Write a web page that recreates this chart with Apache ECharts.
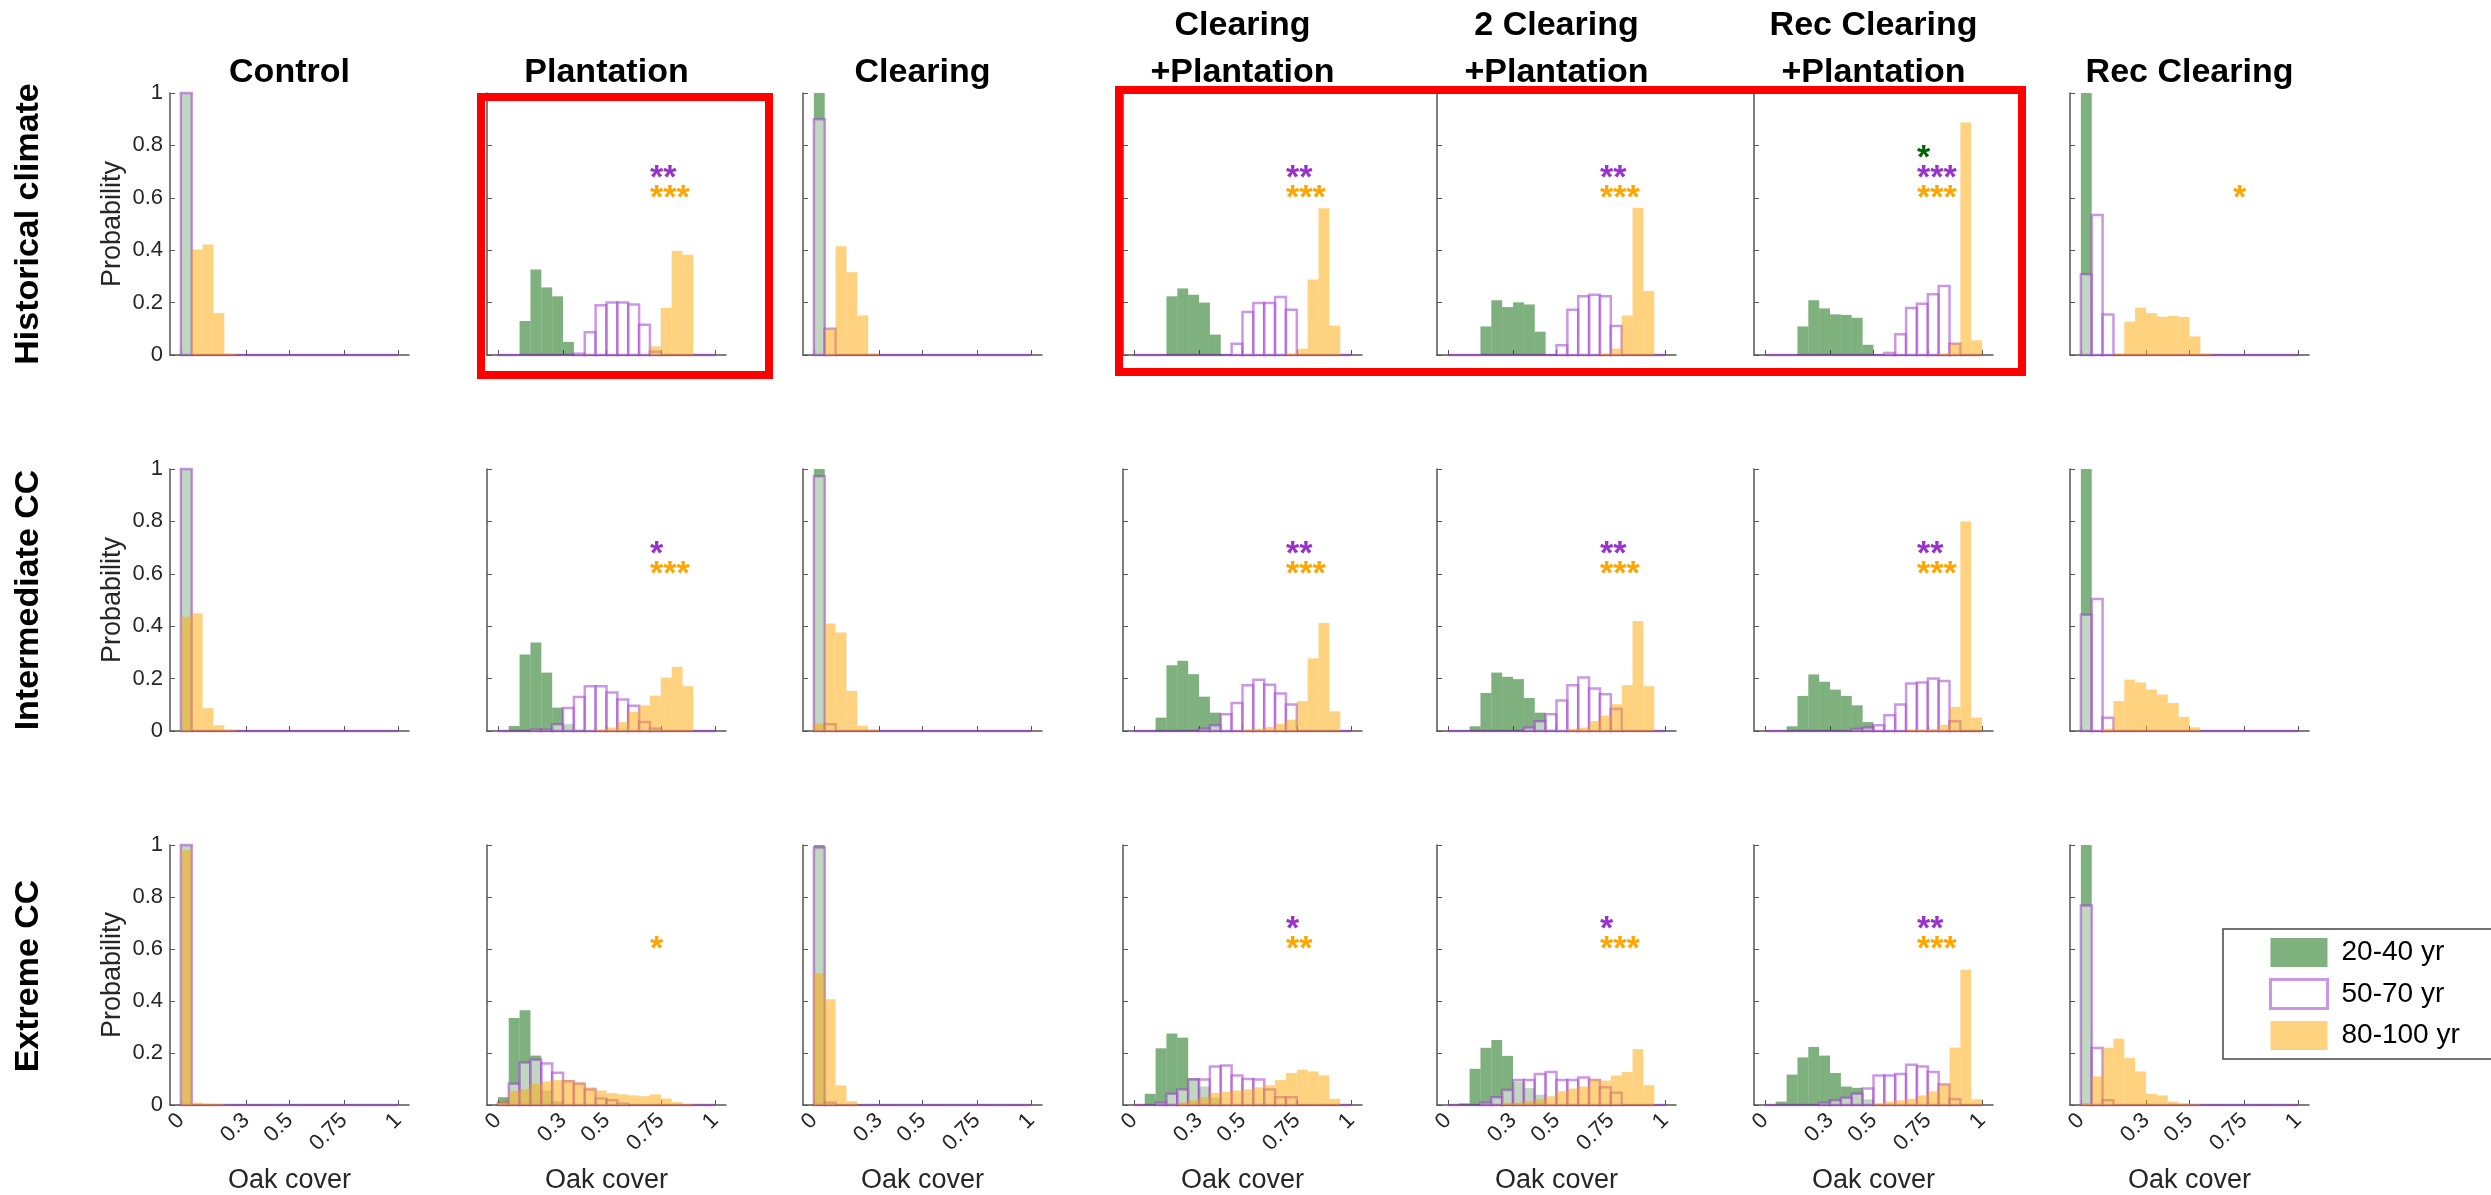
<!DOCTYPE html>
<html>
<head>
<meta charset="utf-8">
<title>Oak cover histograms</title>
<style>
  html, body, #chart { width: 100%; height: 100%; margin: 0; padding: 0; background: #fff; }
</style>
</head>
<body>
<div id="chart"></div>
<script src="https://cdn.jsdelivr.net/npm/echarts@6.0.0/dist/echarts.min.js"></script>
<script>
// ---- data ----
const scenarios = ['Control', 'Plantation', 'Clearing', 'Clearing\n+Plantation',
  '2 Clearing\n+Plantation', 'Rec Clearing\n+Plantation', 'Rec Clearing'];
const climates = ['Historical climate', 'Intermediate CC', 'Extreme CC'];
const ageGroups = ['20-40 yr', '50-70 yr', '80-100 yr'];
const binEdges = [0, 0.05, 0.1, 0.15, 0.2, 0.25, 0.3, 0.35, 0.4, 0.45, 0.5,
  0.55, 0.6, 0.65, 0.7, 0.75, 0.8, 0.85, 0.9, 0.95, 1];
const xTicks = [0, 0.3, 0.5, 0.75, 1];

// each scenario: [index of first bin, probabilities from that bin on]
const hist_20_40 = [
  [0, [1]],
  [2, [0.13, 0.326, 0.258, 0.224, 0.05]],
  [0, [1]],
  [3, [0.224, 0.254, 0.23, 0.2, 0.078]],
  [3, [0.109, 0.209, 0.183, 0.201, 0.193, 0.089]],
  [3, [0.109, 0.209, 0.178, 0.155, 0.153, 0.142, 0.039]],
  [0, [1]]
];
const hist_50_70 = [
  [0, [1]],
  [7, [0.005, 0.087, 0.19, 0.2, 0.2, 0.193, 0.115, 0.012]],
  [0, [0.9, 0.1]],
  [9, [0.043, 0.164, 0.198, 0.198, 0.221, 0.173]],
  [10, [0.037, 0.173, 0.224, 0.23, 0.224, 0.111]],
  [11, [0.008, 0.079, 0.179, 0.196, 0.232, 0.263, 0.043]],
  [0, [0.308, 0.534, 0.155]]
];
const hist_80_100 = [
  [1, [0.403, 0.422, 0.16, 0.005]],
  [14, [0.033, 0.18, 0.397, 0.383]],
  [1, [0.1, 0.415, 0.316, 0.151, 0.005]],
  [14, [0.005, 0.024, 0.288, 0.56, 0.112]],
  [14, [0.005, 0.024, 0.151, 0.562, 0.244]],
  [16, [0.005, 0.043, 0.887, 0.056]],
  [3, [0.005, 0.127, 0.181, 0.16, 0.146, 0.149, 0.145, 0.071, 0.005]]
];

const inter_20_40 = [
  [0, [1]],
  [1, [0.019, 0.292, 0.338, 0.223, 0.089, 0.026, 0.005]],
  [0, [1]],
  [2, [0.051, 0.251, 0.268, 0.217, 0.131, 0.07]],
  [2, [0.018, 0.145, 0.223, 0.207, 0.198, 0.126, 0.07, 0.005]],
  [2, [0.018, 0.134, 0.216, 0.188, 0.158, 0.134, 0.098, 0.034]],
  [0, [1]]
];
const inter_50_70 = [
  [0, [1]],
  [3, [0.005, 0.005, 0.026, 0.088, 0.13, 0.171, 0.171, 0.147, 0.12, 0.096, 0.034, 0.009]],
  [0, [0.972, 0.026]],
  [6, [0.009, 0.022, 0.064, 0.107, 0.175, 0.196, 0.177, 0.143, 0.101]],
  [7, [0.013, 0.037, 0.064, 0.116, 0.175, 0.204, 0.162, 0.14, 0.084]],
  [8, [0.008, 0.013, 0.022, 0.06, 0.101, 0.181, 0.185, 0.2, 0.191, 0.037]],
  [0, [0.444, 0.504, 0.051]]
];
const inter_80_100 = [
  [0, [0.436, 0.449, 0.087, 0.022, 0.005]],
  [9, [0.005, 0.013, 0.034, 0.073, 0.098, 0.135, 0.204, 0.245, 0.171]],
  [0, [0.028, 0.41, 0.376, 0.153, 0.02, 0.005]],
  [10, [0.005, 0.009, 0.015, 0.028, 0.043, 0.114, 0.277, 0.412, 0.075]],
  [11, [0.008, 0.013, 0.038, 0.059, 0.102, 0.175, 0.42, 0.171]],
  [13, [0.005, 0.005, 0.008, 0.024, 0.092, 0.8, 0.051]],
  [2, [0.009, 0.114, 0.196, 0.185, 0.158, 0.139, 0.107, 0.054, 0.014]]
];

const extreme_20_40 = [
  [0, [1]],
  [0, [0.03, 0.335, 0.364, 0.19, 0.056, 0.015]],
  [0, [1]],
  [1, [0.043, 0.218, 0.275, 0.259, 0.103, 0.071, 0.028]],
  [1, [0.006, 0.139, 0.22, 0.25, 0.189, 0.09, 0.065, 0.04]],
  [1, [0.013, 0.117, 0.183, 0.223, 0.19, 0.123, 0.071, 0.066, 0.022]],
  [0, [1]]
];
const extreme_50_70 = [
  [0, [1]],
  [0, [0.008, 0.082, 0.163, 0.174, 0.16, 0.124, 0.091, 0.082, 0.06, 0.025, 0.018, 0.005]],
  [0, [0.99, 0.009]],
  [2, [0.009, 0.043, 0.06, 0.098, 0.098, 0.148, 0.152, 0.113, 0.1, 0.098, 0.06, 0.03, 0.03]],
  [3, [0.009, 0.03, 0.058, 0.096, 0.096, 0.119, 0.127, 0.096, 0.096, 0.106, 0.096, 0.068, 0.047]],
  [5, [0.009, 0.018, 0.028, 0.043, 0.063, 0.113, 0.113, 0.119, 0.155, 0.148, 0.127, 0.079, 0.022]],
  [0, [0.767, 0.219, 0.018]]
];
const extreme_80_100 = [
  [0, [0.98, 0.009, 0.005, 0.003]],
  [0, [0.011, 0.053, 0.06, 0.082, 0.091, 0.096, 0.096, 0.087, 0.068, 0.056, 0.046, 0.041,
       0.037, 0.034, 0.041, 0.025, 0.011, 0.003]],
  [0, [0.507, 0.407, 0.075, 0.015]],
  [4, [0.009, 0.018, 0.03, 0.047, 0.051, 0.056, 0.06, 0.068, 0.076, 0.096, 0.123, 0.136,
       0.129, 0.114, 0.024]],
  [5, [0.009, 0.009, 0.015, 0.022, 0.034, 0.053, 0.063, 0.071, 0.098, 0.094, 0.113, 0.127,
       0.215, 0.076]],
  [10, [0.006, 0.013, 0.018, 0.024, 0.037, 0.053, 0.079, 0.221, 0.52, 0.022]],
  [0, [0.006, 0.11, 0.22, 0.255, 0.181, 0.129, 0.043, 0.037, 0.013, 0.006, 0.003]]
];

// significance marks: [age group index, text]
const stars_hist = [[], [[1, '**'], [2, '***']], [], [[1, '**'], [2, '***']],
  [[1, '**'], [2, '***']], [[0, '*'], [1, '***'], [2, '***']], [[2, '*']]];
const stars_inter = [[], [[1, '*'], [2, '***']], [], [[1, '**'], [2, '***']],
  [[1, '**'], [2, '***']], [[1, '**'], [2, '***']], []];
const stars_extreme = [[], [[2, '*']], [], [[1, '*'], [2, '**']],
  [[1, '*'], [2, '***']], [[1, '**'], [2, '***']], []];
const starX = 0.7;
const starLevels = [0.775, 0.7, 0.625];

// ---- layout / style ----
const FONT = '"Liberation Sans", Arial, Helvetica, sans-serif';
const gridLeft = [170, 487, 803, 1123, 1437, 1754, 2070];
const gridTop = [93, 469, 845];
const gridW = 239, gridH = 262;
const axisColor = '#555';
const fills = ['rgba(0,100,0,0.5)', 'rgba(255,255,255,0.5)', 'rgba(255,165,0,0.5)'];
const purpleEdge = 'rgba(153,50,204,0.5)';
const starColors = ['#006400', '#9932cc', '#ffa500'];

const rowsData = [
  [hist_20_40, hist_50_70, hist_80_100, stars_hist],
  [inter_20_40, inter_50_70, inter_80_100, stars_inter],
  [extreme_20_40, extreme_50_70, extreme_80_100, stars_extreme]
];

function barRenderer(g) {
  return function (params, api) {
    const p0 = api.coord([api.value(0), 0]);
    const p1 = api.coord([api.value(1), api.value(2)]);
    return {
      type: 'rect',
      shape: { x: p0[0], y: p1[1], width: p1[0] - p0[0], height: p0[1] - p1[1] },
      style: g === 1
        ? { fill: fills[1], stroke: purpleEdge, lineWidth: 2.5 }
        : { fill: fills[g], stroke: null }
    };
  };
}

const grids = [], xAxes = [], yAxes = [], series = [];

rowsData.forEach(function (row, r) {
  scenarios.forEach(function (scen, c) {
    const idx = grids.length;
    grids.push({ left: gridLeft[c], top: gridTop[r], width: gridW, height: gridH });

    xAxes.push({
      gridIndex: idx, type: 'value', min: -0.05, max: 1.05,
      axisLine: { onZero: false, lineStyle: { color: axisColor, width: 1.5 } },
      axisTick: { show: true, inside: true, length: 5, customValues: xTicks,
        lineStyle: { color: axisColor } },
      axisLabel: { show: r === 2, customValues: xTicks, rotate: 45, fontSize: 22,
        color: '#262626', fontFamily: FONT, margin: 12 },
      splitLine: { show: false },
      name: r === 2 ? 'Oak cover' : '', nameLocation: 'middle', nameGap: 62,
      nameTextStyle: { fontSize: 27, color: '#262626', fontFamily: FONT }
    });

    yAxes.push({
      gridIndex: idx, type: 'value', min: 0, max: 1, interval: 0.2,
      axisLine: { show: true, onZero: false, lineStyle: { color: axisColor, width: 1.5 } },
      axisTick: { show: true, inside: true, length: 5, lineStyle: { color: axisColor } },
      axisLabel: { show: c === 0, fontSize: 22, color: '#262626', fontFamily: FONT, margin: 7 },
      splitLine: { show: false },
      name: c === 0 ? 'Probability' : '', nameLocation: 'middle', nameGap: 44,
      nameTextStyle: { fontSize: 27, color: '#262626', fontFamily: FONT }
    });

    for (let g = 0; g < 3; g++) {
      const start = row[g][c][0], vals = row[g][c][1];
      const data = [];
      if (g === 1) {
        // outlined histogram: every bin is drawn, empty ones as a line on the axis
        for (let i = 0; i < 20; i++) {
          const k = i - start;
          const v = (k >= 0 && k < vals.length) ? vals[k] : 0;
          data.push([binEdges[i], binEdges[i + 1], v]);
        }
      } else {
        vals.forEach(function (v, k) {
          if (v > 0) data.push([binEdges[start + k], binEdges[start + k + 1], v]);
        });
      }
      series.push({
        type: 'custom', name: ageGroups[g], xAxisIndex: idx, yAxisIndex: idx,
        data: data, encode: { x: [0, 1], y: 2 }, renderItem: barRenderer(g),
        silent: true
      });
    }

    const marks = row[3][c];
    if (marks.length) {
      series.push({
        type: 'custom', name: 'stars', xAxisIndex: idx, yAxisIndex: idx, silent: true,
        data: marks.map(function (m) { return [starX, starLevels[m[0]]]; }),
        encode: { x: 0, y: 1 },
        renderItem: function (params, api) {
          const pt = api.coord([api.value(0), api.value(1)]);
          const m = marks[params.dataIndex];
          return {
            type: 'text', x: pt[0], y: pt[1] + 7,
            style: { text: m[1], fill: starColors[m[0]], font: 'bold 34px ' + FONT,
              align: 'left', verticalAlign: 'middle', textAlign: 'left', textVerticalAlign: 'middle' }
          };
        }
      });
    }
  });
});

// titles, row labels and red boxes
const graphics = [];
scenarios.forEach(function (scen, c) {
  const lines = scen.split('\n');
  const cx = gridLeft[c] + gridW / 2;
  lines.forEach(function (ln, i) {
    graphics.push({
      type: 'text', x: cx, y: 73 - (lines.length - 1 - i) * 47,
      style: { text: ln, font: 'bold 34px ' + FONT, fill: '#000',
        align: 'center', verticalAlign: 'middle', textAlign: 'center', textVerticalAlign: 'middle' }
    });
  });
});
climates.forEach(function (cl, r) {
  graphics.push({
    type: 'text', x: 29, y: gridTop[r] + gridH / 2, rotation: Math.PI / 2,
    style: { text: cl, font: 'bold 34px ' + FONT, fill: '#000',
      align: 'center', verticalAlign: 'middle', textAlign: 'center', textVerticalAlign: 'middle' }
  });
});
graphics.push({ type: 'rect', shape: { x: 481, y: 97, width: 288, height: 278 },
  style: { fill: 'transparent', stroke: '#ff0000', lineWidth: 8 }, z: 10 });
graphics.push({ type: 'rect', shape: { x: 1119, y: 90, width: 903, height: 282 },
  style: { fill: 'transparent', stroke: '#ff0000', lineWidth: 8 }, z: 10 });

const option = {
  animation: false,
  backgroundColor: '#fff',
  grid: grids,
  xAxis: xAxes,
  yAxis: yAxes,
  legend: {
    orient: 'vertical', left: 2223, top: 929,
    itemWidth: 57, itemHeight: 29, itemGap: 11,
    padding: [9, 80, 9, 46],
    borderColor: '#444', borderWidth: 1.5, backgroundColor: '#fff',
    selectedMode: false,
    textStyle: { fontSize: 28, color: '#000', fontFamily: FONT, lineHeight: 29, padding: [0, 0, 0, 9] },
    data: [
      { name: ageGroups[0], icon: 'rect', itemStyle: { color: fills[0], borderWidth: 0 } },
      { name: ageGroups[1], icon: 'rect', itemStyle: { color: '#fff', borderColor: purpleEdge, borderWidth: 3 } },
      { name: ageGroups[2], icon: 'rect', itemStyle: { color: fills[2], borderWidth: 0 } }
    ]
  },
  graphic: graphics,
  series: series
};

const chart = echarts.init(document.getElementById('chart'));
chart.setOption(option);
</script>
</body>
</html>
